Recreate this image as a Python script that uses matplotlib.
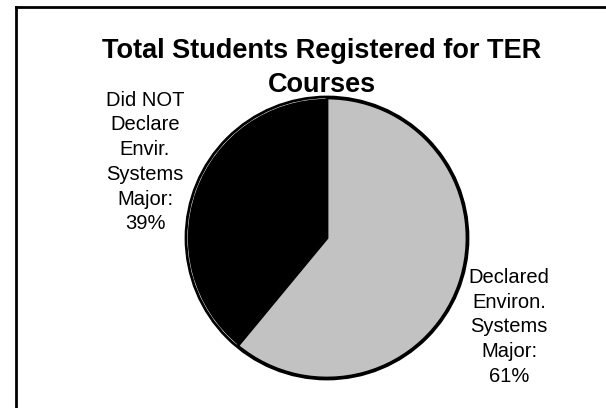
import matplotlib
matplotlib.use("Agg")
import matplotlib.pyplot as plt

plt.rcParams['font.family'] = ['Liberation Sans', 'DejaVu Sans']

# data
title = "Total Students Registered for TER\nCourses"
labels = ["Did NOT\nDeclare\nEnvir.\nSystems\nMajor", "Declared\nEnviron.\nSystems\nMajor"]
shares = [39, 61]
colors = ["black", "#c2c2c2"]

W, H = 606, 408
fig = plt.figure(figsize=(W / 100, H / 100), dpi=100)
ax = fig.add_axes([0, 0, 1, 1])

cx, cy, r = 327, H - 238, 140
wedges, _ = ax.pie(shares, colors=colors, startangle=90, counterclock=True,
                   center=(cx, cy), radius=r, explode=[0.012, 0],
                   wedgeprops=dict(linewidth=2, edgecolor="black"))
# white rim inside the dark slice
wedges[0].set_edgecolor("white")
wedges[0].set_linewidth(1.2)
ax.add_patch(plt.Circle((cx, cy), r + 1, fill=False, edgecolor="black", linewidth=2))

ax.set_xlim(0, W)
ax.set_ylim(0, H)
ax.set_aspect("auto")
ax.axis("off")

# frame around the chart (runs off the right / bottom edge)
ax.plot([16, 16], [0, H - 7], color="black", lw=2)
ax.plot([16, W], [H - 7, H - 7], color="black", lw=2)

ax.text(322, H - 68, title, ha="center", va="center", fontsize=19.5,
        fontweight="bold", linespacing=1.38)

ax.text(145, H - 162, f"{labels[0]}:\n{shares[0]}%", ha="center", va="center",
        fontsize=14.5, linespacing=1.38)
ax.text(509, H - 327, f"{labels[1]}:\n{shares[1]}%", ha="center", va="center",
        fontsize=14.5, linespacing=1.38)

fig.savefig("out.png", dpi=100)
